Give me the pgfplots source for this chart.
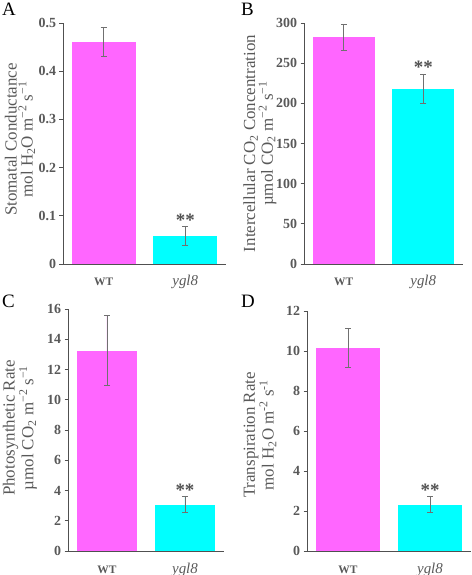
\documentclass[border=0pt]{standalone}
\usepackage{fontspec}
\setmainfont{Liberation Serif}
\usepackage{pgfplots}
\pgfplotsset{compat=1.18}
\definecolor{mag}{HTML}{FF66FF}
\definecolor{cyn}{HTML}{00FFFF}
\definecolor{axgray}{HTML}{505050}
\definecolor{txgray}{HTML}{595959}
\definecolor{errgray}{HTML}{707070}

\tikzset{
 stars/.style={font=\fontsize{19}{19}\selectfont\bfseries, text=axgray, anchor=south, inner sep=0pt, yshift=0bp},
 letter/.style={anchor=north west, inner sep=0pt, font=\fontsize{19}{19}\selectfont},
}
\pgfplotsset{
 panel/.style={
  scale only axis,
  axis x line=bottom, axis y line=left,
  axis line style={-, draw=axgray, line width=0.8pt},
  xmin=-0.5, xmax=1.5, ymin=0,
  xtick={0,1},
  xticklabels={{\fontsize{11.5}{12}\selectfont\bfseries WT},{\fontsize{15}{16}\selectfont\itshape ygl8}},
  x tick style={draw=none},
  xticklabel style={anchor=base, yshift=-18.5bp, text=txgray},
  y tick style={draw=axgray, line width=0.8pt},
  tick align=outside, major tick length=3.5bp,
  yticklabel style={font=\fontsize{14}{15}\selectfont\bfseries, text=txgray},
  clip=false,
 },
 ylab/.style 2 args={every axis y label/.style={at={(rel axis cs:0,0.5)}, xshift=-#1, yshift=#2, rotate=90, anchor=center, font=\fontsize{17}{16}\selectfont, text=txgray, align=center}},
 barA/.style={ybar, bar width=0.78, fill=mag, draw=none,
   error bars/.cd, y dir=both, y explicit,
   error bar style={draw=errgray, line width=0.8pt},
   error mark options={draw=errgray, line width=0.8pt, mark size=3bp, rotate=90}},
 barB/.style={ybar, bar width=0.78, fill=cyn, draw=none,
   error bars/.cd, y dir=both, y explicit,
   error bar style={draw=errgray, line width=0.8pt},
   error mark options={draw=errgray, line width=0.8pt, mark size=3bp, rotate=90}},
}

\begin{document}
\begin{tikzpicture}
\useasboundingbox (0,0) rectangle (472bp,575bp);

% Panel A
\begin{axis}[panel, at={(63bp,311bp)}, anchor=south west, width=163bp, height=241bp,
  ymax=0.5, ytick={0,0.1,0.2,0.3,0.4,0.5}, yticklabels={0,0.1,0.2,0.3,0.4,0.5},
  ylab={43bp}{4bp},
  ylabel={Stomatal Conductance\\mol H\textsubscript{2}O m\textsuperscript{−2} s\textsuperscript{−1}}]
\addplot[barA] coordinates {(0,0.46) +- (0,0.03)};
\addplot[barB] coordinates {(1,0.058) +- (0,0.02)};
\node[stars] at (axis cs:1,0.078) {**};
\end{axis}

% Panel B
\begin{axis}[panel, at={(304bp,311bp)}, anchor=south west, width=159bp, height=241bp,
  ymax=300, ytick={0,50,100,150,200,250,300}, yticklabels={0,50,100,150,200,250,300},
  ylab={44bp}{0bp},
  ylabel={Intercellular CO\textsubscript{2} Concentration\\µmol CO\textsubscript{2} m\textsuperscript{−2} s\textsuperscript{−1}}]
\addplot[barA] coordinates {(0,282) +- (0,16)};
\addplot[barB] coordinates {(1,218) +- (0,18.5)};
\node[stars] at (axis cs:1,236.5) {**};
\end{axis}

% Panel C
\begin{axis}[panel, at={(68bp,24bp)}, anchor=south west, width=156bp, height=242bp,
  ymax=16, ytick={0,2,4,6,8,10,12,14,16}, yticklabels={0,2,4,6,8,10,12,14,16},
  ylab={48bp}{2bp},
  ylabel={Photosynthetic Rate\\µmol CO\textsubscript{2} m\textsuperscript{−2} s\textsuperscript{−1}}]
\addplot[barA] coordinates {(0,13.25) +- (0,2.3)};
\addplot[barB] coordinates {(1,3.05) +- (0,0.53)};
\node[stars] at (axis cs:1,3.58) {**};
\end{axis}

% Panel D
\begin{axis}[panel, at={(307bp,24bp)}, anchor=south west, width=164bp, height=240bp,
  ymax=12, ytick={0,2,4,6,8,10,12}, yticklabels={0,2,4,6,8,10,12},
  ylab={47bp}{-4bp},
  ylabel={Transpiration Rate\\mol H\textsubscript{2}O m\textsuperscript{-2} s\textsuperscript{-1}}]
\addplot[barA] coordinates {(0,10.17) +- (0,0.98)};
\addplot[barB] coordinates {(1,2.32) +- (0,0.4)};
\node[stars] at (axis cs:1,2.72) {**};
\end{axis}

\node[letter] at (2bp,572bp) {A};
\node[letter] at (241bp,572bp) {B};
\node[letter] at (2bp,280bp) {C};
\node[letter] at (241bp,280bp) {D};
\end{tikzpicture}
\end{document}
